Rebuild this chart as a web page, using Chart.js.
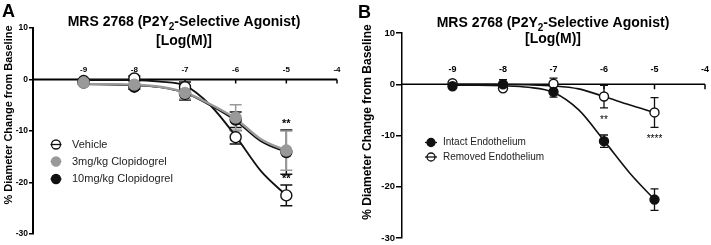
<!DOCTYPE html>
<html lang="en">
<head>
<meta charset="UTF-8">
<title>MRS 2768 dose response</title>
<script src="https://cdn.jsdelivr.net/npm/chart.js"></script>
<style>
  body { margin: 0; background: #fff; }
  .panel { position: absolute; top: 0; height: 245px; }
</style>
</head>
<body>
<div class="panel" style="left:0;width:355px"><canvas id="chartA" width="355" height="245"></canvas></div>
<div class="panel" style="left:355px;width:356px"><canvas id="chartB" width="356" height="245"></canvas></div>
<script>
// log dose (M) for the measured points and for the fitted curves
const doses = [-9, -8, -7, -6, -5];
const fitDoses = [-9, -8.5, -8, -7.5, -7, -6.5, -6, -5.5, -5];
const xTickValues = [-9, -8, -7, -6, -5, -4];
const yTickStep = 10;

// Panel A - clopidogrel
const vehicleA = [-0.3, 0.2, -1.5, -11.2, -22.5];
const vehicleASem = [0.3, 0.5, 1.0, 1.3, 2.0];
const vehicleAFit = [-0.1, -0.1, -0.1, -0.4, -1.2, -5.0, -11.0, -17.8, -22.5];
const clop3A = [-0.6, -1.0, -2.6, -7.4, -13.8];
const clop3ASem = [0.3, 0.6, 1.2, 2.5, 3.8];
const clop3AFit = [-0.9, -0.9, -1.0, -1.4, -2.5, -4.8, -7.6, -11.6, -13.8];
const clop10A = [-0.6, -1.4, -2.8, -7.8, -14.1];
const clop10ASem = [0.3, 0.5, 1.2, 1.5, 4.3];
const clop10AFit = [-0.9, -1.0, -1.1, -1.5, -2.6, -5.0, -8.0, -12.0, -14.1];
const starsAX = [-5, -5];
const starsAY = [-8.0, -18.8];
const starsAText = ['**', '**'];

// Panel B - endothelium
const intactB = [-0.4, 0.0, -1.5, -11.1, -22.5];
const intactBSem = [0.4, 0.9, 1.0, 1.2, 2.1];
const intactBFit = [-0.2, -0.2, -0.3, -0.6, -1.6, -5.0, -11.0, -17.2, -22.5];
const removedB = [0.2, -0.8, 0.1, -2.4, -5.5];
const removedBSem = [0.3, 0.5, 1.1, 2.2, 2.9];
const removedBFit = [0.0, 0.0, -0.05, -0.1, -0.3, -0.9, -2.4, -4.0, -5.5];
const starsBX = [-6, -5];
const starsBY = [-6.5, -10.2];
const starsBText = ['**', '****'];

const titleParts = [['MRS 2768 (P2Y', false], ['2', true], ['-Selective Agonist)', false]];
const titleLine2 = '[Log(M)]';
const yTitle = '% Diameter Change from Baseline';

const FONT = '"Liberation Sans", Arial, Helvetica, sans-serif';
const grey = '#999999';

function pts(xs, ys) {
    return xs.map((x, i) => ({ x: x, y: ys[i] }));
}

function drawTitle(ctx, cx, y, size) {
    const big = 'bold ' + size + 'px ' + FONT;
    const small = 'bold ' + Math.round(size * 0.7) + 'px ' + FONT;
    let total = 0;
    titleParts.forEach(([t, sub]) => {
        ctx.font = sub ? small : big;
        total += ctx.measureText(t).width;
    });
    let x = cx - total / 2;
    ctx.textAlign = 'left';
    ctx.textBaseline = 'alphabetic';
    titleParts.forEach(([t, sub]) => {
        ctx.font = sub ? small : big;
        ctx.fillText(t, x, sub ? y + size * 0.25 : y);
        x += ctx.measureText(t).width;
    });
}

function makeDecor(p) {
    return {
        id: 'decor' + p.letter,
        beforeDatasetsDraw(chart) {
            const ctx = chart.ctx, xs = chart.scales.x, ys = chart.scales.y;
            const y0 = ys.getPixelForValue(0);
            ctx.save();
            ctx.strokeStyle = '#000';
            ctx.fillStyle = '#000';
            // x axis crosses at y = 0
            ctx.lineWidth = p.axisWidth;
            ctx.beginPath();
            ctx.moveTo(chart.chartArea.left, y0);
            ctx.lineTo(xs.getPixelForValue(xTickValues[xTickValues.length - 1]), y0);
            ctx.stroke();
            ctx.lineWidth = 1.5;
            ctx.font = p.xTickFont;
            ctx.textAlign = 'center';
            ctx.textBaseline = 'alphabetic';
            xTickValues.forEach(v => {
                const px = xs.getPixelForValue(v);
                ctx.beginPath();
                ctx.moveTo(px, y0);
                ctx.lineTo(px, y0 + p.xTickLen);
                ctx.stroke();
                ctx.fillText(String(v), px, y0 - p.xLabelGap);
            });
            // SEM error bars
            chart.data.datasets.slice().reverse().forEach(ds => {
                if (!ds.sem) return;
                ctx.strokeStyle = ds.borderColor;
                ctx.lineWidth = p.errWidth;
                ds.data.forEach((pt, i) => {
                    const px = xs.getPixelForValue(pt.x);
                    const hi = ys.getPixelForValue(pt.y + ds.sem[i]);
                    const lo = ys.getPixelForValue(pt.y - ds.sem[i]);
                    ctx.beginPath();
                    ctx.moveTo(px, hi); ctx.lineTo(px, lo);
                    ctx.moveTo(px - p.cap, hi); ctx.lineTo(px + p.cap, hi);
                    ctx.moveTo(px - p.cap, lo); ctx.lineTo(px + p.cap, lo);
                    ctx.stroke();
                });
            });
            ctx.restore();
        },
        afterDraw(chart) {
            const ctx = chart.ctx, xs = chart.scales.x, ys = chart.scales.y;
            ctx.save();
            ctx.fillStyle = '#000';
            ctx.font = 'bold 18px ' + FONT;
            ctx.textAlign = 'left';
            ctx.textBaseline = 'alphabetic';
            ctx.fillText(p.letter, p.letterX, p.letterY);

            drawTitle(ctx, p.titleX, p.titleY1, p.titleSize);
            ctx.font = 'bold ' + p.titleSize + 'px ' + FONT;
            ctx.textAlign = 'center';
            ctx.fillText(titleLine2, p.titleX, p.titleY2);

            ctx.save();
            ctx.translate(p.yTitleX, p.yTitleY);
            ctx.rotate(-Math.PI / 2);
            ctx.font = 'bold ' + p.yTitleSize + 'px ' + FONT;
            ctx.textBaseline = 'middle';
            ctx.fillText(yTitle, 0, 0);
            ctx.restore();

            // significance stars
            ctx.font = p.starFont;
            ctx.textAlign = 'center';
            ctx.textBaseline = 'alphabetic';
            p.starsX.forEach((x, i) => {
                ctx.fillText(p.starsText[i], xs.getPixelForValue(x), ys.getPixelForValue(p.starsY[i]) + p.starShift);
            });

            // legend
            ctx.font = p.legendFont;
            ctx.textAlign = 'left';
            ctx.textBaseline = 'middle';
            p.legend.forEach((idx, row) => {
                const ds = chart.data.datasets[idx];
                const y = p.legendRows[row];
                ctx.beginPath();
                ctx.arc(p.legendSymX, y, p.legendR, 0, Math.PI * 2);
                ctx.fillStyle = ds.backgroundColor;
                ctx.fill();
                ctx.strokeStyle = ds.borderColor;
                ctx.lineWidth = 1.3;
                ctx.stroke();
                ctx.beginPath();
                ctx.moveTo(p.legendSymX - p.legendLine, y);
                ctx.lineTo(p.legendSymX + p.legendLine, y);
                ctx.stroke();
                ctx.fillStyle = '#222';
                ctx.fillText(ds.label, p.legendTextX, y);
            });
            ctx.restore();
        }
    };
}

function markerSet(label, ys, sem, fillColor, lineColor, r) {
    return {
        label: label, data: pts(doses, ys), sem: sem, showLine: false,
        pointRadius: r, pointHoverRadius: r,
        backgroundColor: fillColor, borderColor: lineColor, pointBorderWidth: 1.4
    };
}

function fitSet(ys, color, width) {
    return {
        label: '', data: pts(fitDoses, ys), showLine: true, pointRadius: 0,
        borderColor: color, borderWidth: width, cubicInterpolationMode: 'monotone', fill: false
    };
}

function makeChart(id, datasets, p) {
    return new Chart(document.getElementById(id), {
        type: 'scatter',
        data: { datasets: datasets },
        options: {
            responsive: false,
            animation: false,
            events: [],
            layout: { padding: p.padding },
            plugins: { legend: { display: false }, tooltip: { enabled: false } },
            scales: {
                x: { type: 'linear', min: -10, max: -4, display: false },
                y: {
                    min: -30, max: 10,
                    afterFit: s => { s.width = p.axisLeft; },
                    grid: { drawOnChartArea: false, drawTicks: true, tickLength: p.yTickLen, color: '#000', lineWidth: 1.5 },
                    border: { color: '#000', width: p.axisWidth },
                    ticks: { stepSize: yTickStep, color: '#000', padding: 1, font: p.yTickFont }
                }
            }
        },
        plugins: [makeDecor(p)]
    });
}

makeChart('chartA', [
    markerSet('3mg/kg Clopidogrel', clop3A, clop3ASem, grey, grey, 5.5),
    markerSet('10mg/kg Clopidogrel', clop10A, clop10ASem, '#111', '#111', 5.5),
    markerSet('Vehicle', vehicleA, vehicleASem, '#fff', '#111', 5.5),
    fitSet(clop3AFit, grey, 2.4),
    fitSet(clop10AFit, '#111', 1.8),
    fitSet(vehicleAFit, '#111', 1.8)
], {
    letter: 'A', letterX: 2, letterY: 17,
    padding: { left: 0, right: 18, top: 28, bottom: 11 },
    axisLeft: 33, axisWidth: 2, yTickLen: 4,
    yTickFont: { family: FONT, size: 8.5, weight: 'bold' },
    xTickFont: 'bold 8px ' + FONT, xTickLen: 4, xLabelGap: 8,
    errWidth: 1.5, cap: 6,
    titleX: 184, titleY1: 26, titleY2: 45, titleSize: 14,
    yTitleX: 8.5, yTitleY: 115, yTitleSize: 11,
    starsX: starsAX, starsY: starsAY, starsText: starsAText,
    starFont: 'bold 11px ' + FONT, starShift: 6,
    legend: [2, 0, 1], legendRows: [144.5, 161.5, 179],
    legendSymX: 56, legendR: 4.5, legendLine: 5.5, legendTextX: 72,
    legendFont: '11px ' + FONT
});

makeChart('chartB', [
    markerSet('Intact Endothelium', intactB, intactBSem, '#111', '#111', 4.5),
    markerSet('Removed Endothelium', removedB, removedBSem, '#fff', '#111', 4.5),
    fitSet(intactBFit, '#111', 1.6),
    fitSet(removedBFit, '#111', 1.6)
], {
    letter: 'B', letterX: 3, letterY: 18,
    padding: { left: 0, right: 6, top: 33, bottom: 7 },
    axisLeft: 47, axisWidth: 1.5, yTickLen: 6,
    yTickFont: { family: FONT, size: 9.5, weight: 'bold' },
    xTickFont: 'bold 9px ' + FONT, xTickLen: 5, xLabelGap: 12,
    errWidth: 1.3, cap: 4,
    titleX: 198, titleY1: 27, titleY2: 43, titleSize: 14,
    yTitleX: 13, yTitleY: 122, yTitleSize: 12,
    starsX: starsBX, starsY: starsBY, starsText: starsBText,
    starFont: '10px ' + FONT, starShift: 5,
    legend: [0, 1], legendRows: [142.5, 157],
    legendSymX: 76, legendR: 4, legendLine: 6, legendTextX: 88,
    legendFont: '10px ' + FONT
});
</script>
</body>
</html>
